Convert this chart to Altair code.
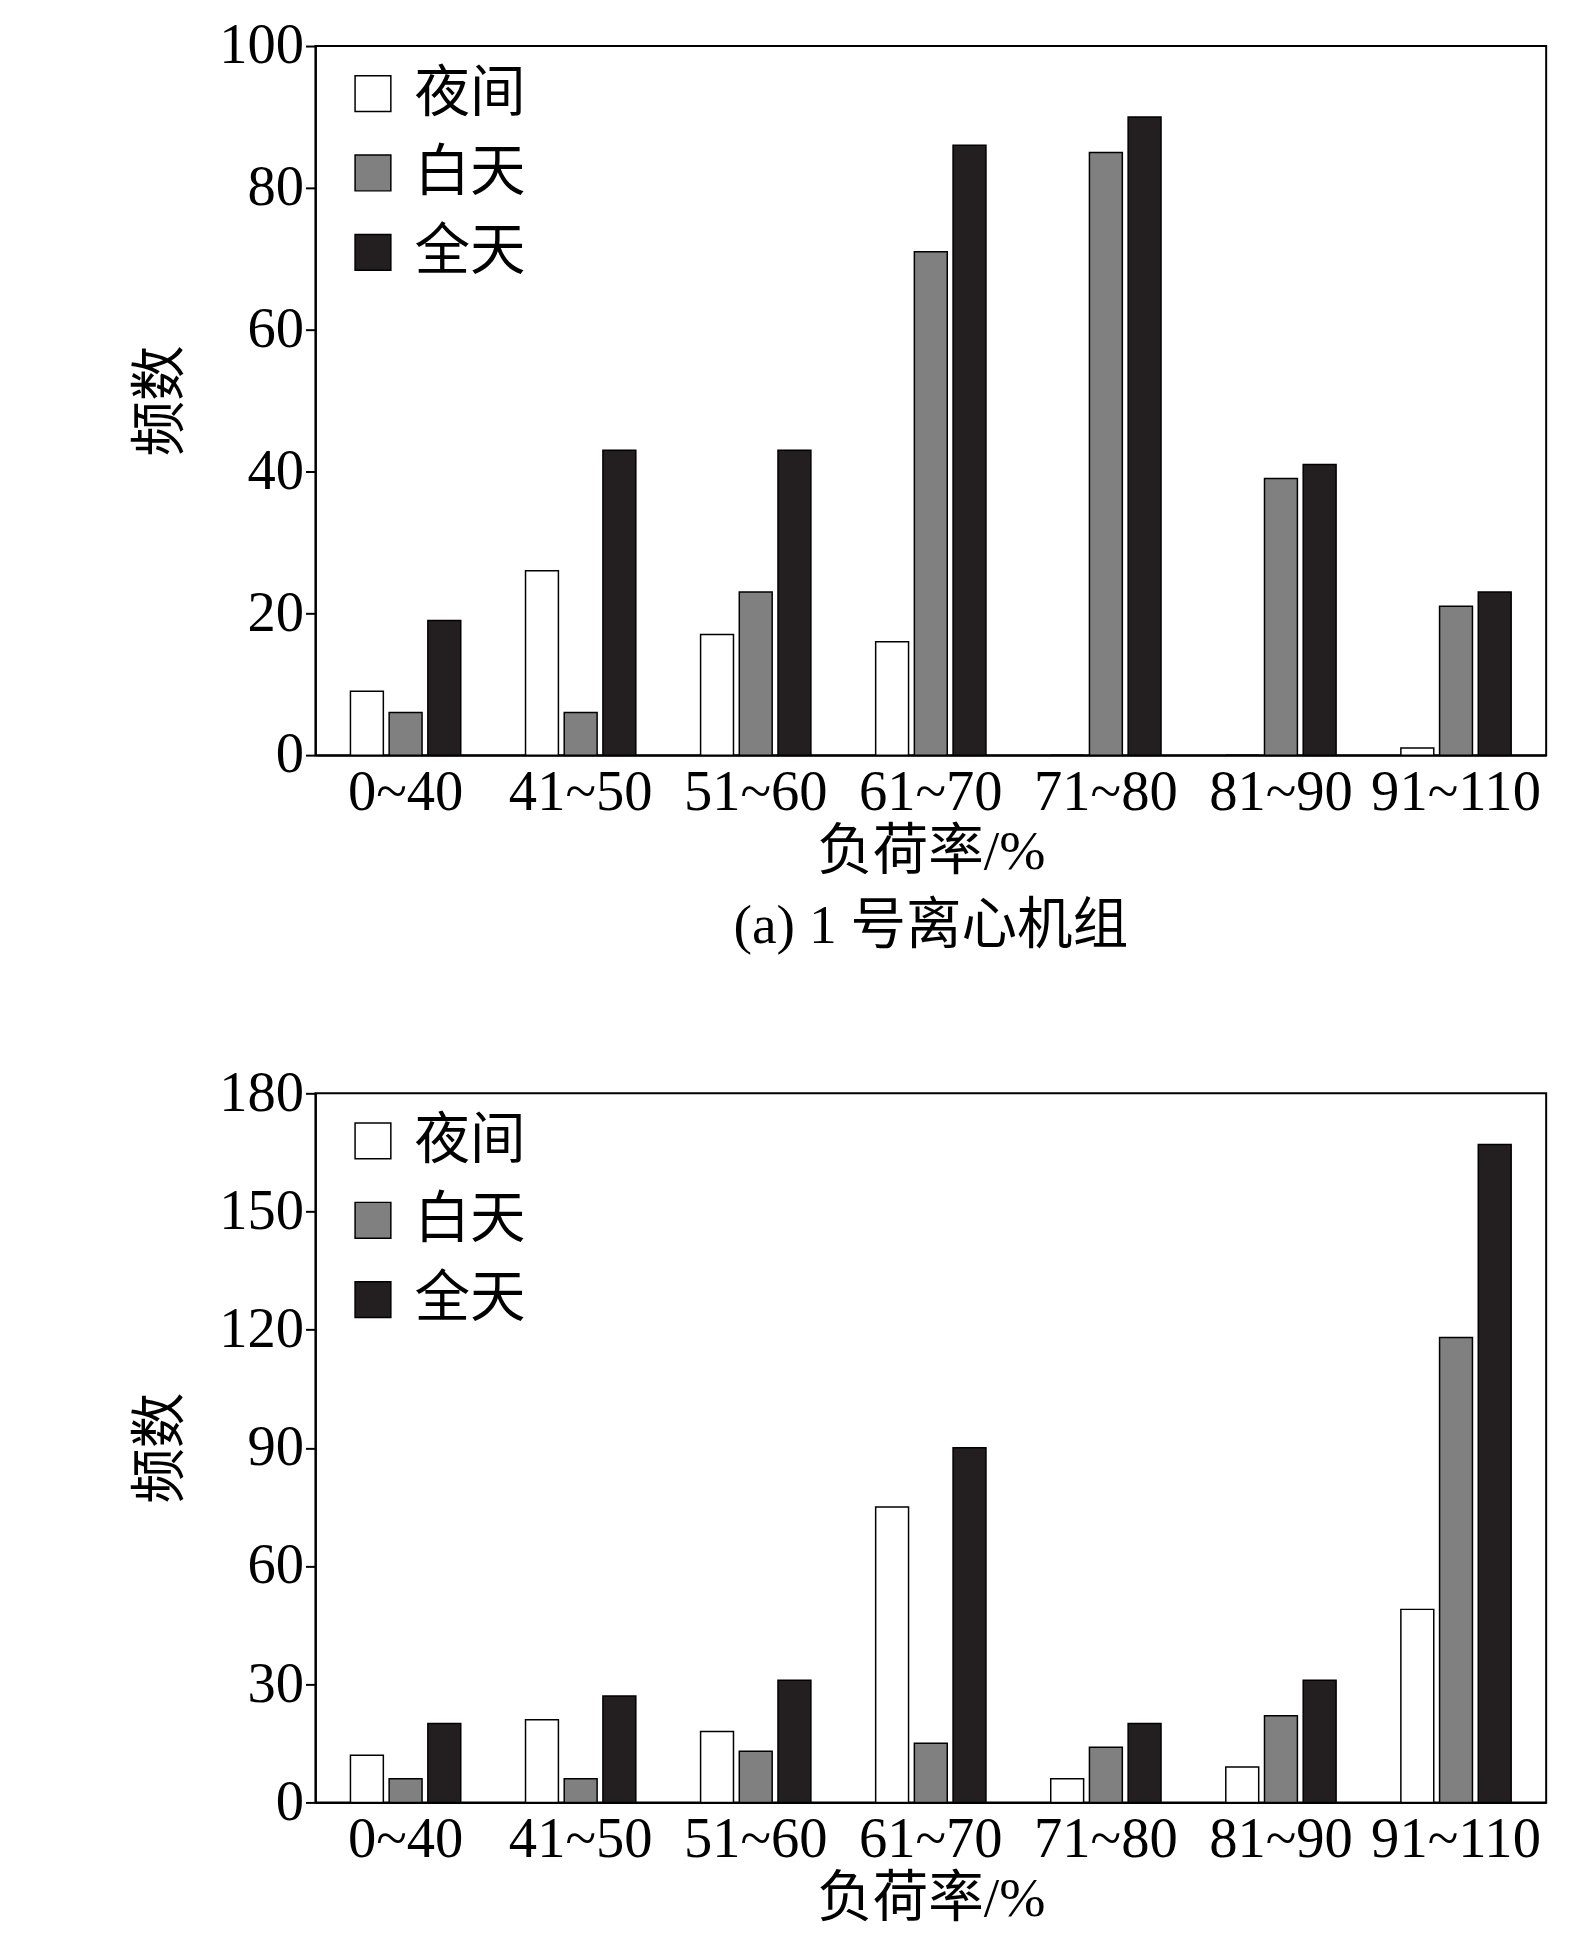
import altair as alt
import pandas as pd

cats = ["0~40", "41~50", "51~60", "61~70", "71~80", "81~90", "91~110"]
series = ["夜间", "白天", "全天"]
colors = ["#ffffff", "#808080", "#231f20"]

a_night = [9, 26, 17, 16, 0, 0, 1]
a_day = [6, 6, 23, 71, 85, 39, 21]
a_all = [19, 43, 43, 86, 90, 41, 23]

b_night = [12, 21, 18, 75, 6, 9, 49]
b_day = [6, 6, 13, 15, 14, 22, 118]
b_all = [20, 27, 31, 90, 20, 31, 167]

FONT = "Liberation Serif, Noto Sans CJK SC"


def panel(vals, ymax, step, title):
    rows = []
    for s, v in zip(series, vals):
        for c, n in zip(cats, v):
            rows.append({"cat": c, "series": s, "n": n})
    df = pd.DataFrame(rows)
    return alt.Chart(df, width=1241, height=715).mark_bar(
        stroke="black", strokeWidth=1.5
    ).encode(
        x=alt.X("cat:N", sort=cats, title="负荷率/%",
                scale=alt.Scale(paddingInner=0.37, paddingOuter=0.2),
                axis=alt.Axis(labelAngle=0, ticks=False, labelPadding=10)),
        xOffset=alt.XOffset("series:N", sort=series, scale=alt.Scale(paddingInner=0.15)),
        y=alt.Y("n:Q", title="频数",
                scale=alt.Scale(domain=[0, ymax], nice=False),
                axis=alt.Axis(values=list(range(0, ymax + 1, step)), grid=False,
                              titleAngle=-90, titlePadding=30)),
        color=alt.Color("series:N", sort=series,
                        scale=alt.Scale(domain=series, range=colors),
                        legend=alt.Legend(title=None, orient="none", legendX=30, legendY=20,
                                          symbolType="square", symbolSize=1300,
                                          symbolStrokeColor="black", symbolStrokeWidth=1.5,
                                          labelFontSize=56, labelFont=FONT, rowPadding=24,
                                          labelOffset=14)),
    ).properties(
        title=alt.TitleParams(title, orient="bottom", fontSize=56, font=FONT,
                              fontWeight="normal", offset=20)
    )


top = panel([a_night, a_day, a_all], 100, 20, "(a) 1 号离心机组")
bottom = panel([b_night, b_day, b_all], 180, 30, "(b) 3 号螺杆机组")

chart = alt.vconcat(top, bottom, spacing=110).resolve_scale(color="independent").properties(
    padding={"left": 124, "top": 0, "right": 20, "bottom": 5}
).configure_view(
    stroke="black", strokeWidth=2
).configure_axis(
    labelFont=FONT, titleFont=FONT, labelFontSize=57, titleFontSize=56,
    labelColor="black", titleColor="black", titleFontWeight="normal",
    domainColor="black", tickColor="black", tickSize=10, domainWidth=2, tickWidth=2
)

chart.save("out.html", embed_options={"renderer": "svg", "actions": False})
